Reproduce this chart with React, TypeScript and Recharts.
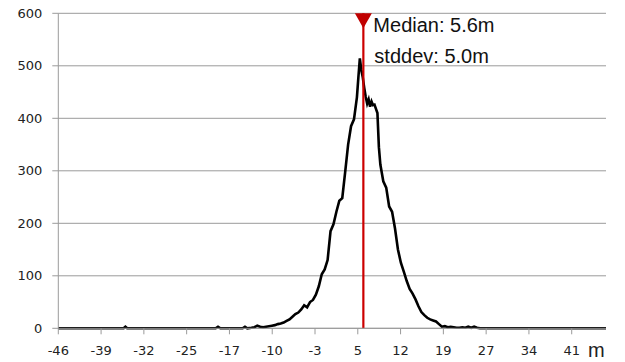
import React from "react";
import { LineChart, Line, XAxis, YAxis, CartesianGrid, ReferenceLine } from "recharts";

// Histogram of position error (metres) vs. count
const xMeters = [
  -46.45, -35.3, -35, -34.7, -19.6, -19.2, -18.8, -15, -14.6, -14.2, -13.5, -13, -12.5, -12, -11.5, -11,
  -10.5, -10, -9.5, -9, -8.5, -8, -7.5, -7, -6.5, -6, -5.5, -5, -4.5, -4, -3.5, -3, -2.5, -2, -1.5,
  -1, -0.5, 0, 0.5, 1, 1.5, 2, 2.5, 3, 3.5, 4, 4.5, 4.75, 5, 5.25, 5.5, 5.75, 6, 6.25, 6.5, 6.75, 7,
  7.25, 7.5, 7.75, 8, 8.25, 8.5, 9, 9.5, 10, 10.5, 11, 11.5, 12, 12.5, 13, 13.5, 14, 14.5, 15, 15.5,
  16, 16.5, 17, 17.5, 18, 18.5, 19, 19.5, 20, 20.5, 21, 21.5, 22, 22.5, 23, 23.5, 24, 24.5, 25, 25.5, 47,
];
const counts = [
  0, 0, 3, 0, 0, 3, 0, 0, 3, 0, 1, 2, 5, 3, 2, 3,
  4, 5, 6, 8, 9, 11, 14, 17, 22, 27, 30, 36, 44, 40, 50, 54, 64, 80, 103,
  112, 130, 185, 198, 222, 243, 248, 298, 350, 385, 398, 440, 478, 514, 492, 478, 458, 441, 428, 436, 422, 432,
  425, 426, 418, 410, 345, 312, 280, 268, 232, 222, 190, 150, 125, 108, 90, 75, 66, 55, 42, 31,
  25, 20, 17, 15, 13, 8, 3, 4, 2, 3, 2, 1, 1, 2, 1, 3, 1, 3, 1, 0, 0,
];

const yTicks = [0, 100, 200, 300, 400, 500, 600];
const xTickValues = [-46.45, -39.15, -31.85, -24.55, -17.25, -9.95, -2.65, 4.65, 11.95, 19.25, 26.55, 33.85, 41.15];
const xTickLabels = ["-46", "-39", "-32", "-25", "-17", "-10", "-3", "5", "12", "19", "27", "34", "41"];

const median = 5.6;
const medianText = "Median: 5.6m";
const stddevText = "stddev: 5.0m";
const unitText = "m";

const data = xMeters.map((x, i) => ({ x, count: counts[i] }));

const tickFont = { fontFamily: "DejaVu Sans", fontSize: 13, fill: "#222" };

function MedianMarker(props: any) {
  const vb = props.viewBox || {};
  const x = vb.x ?? 0;
  const y = vb.y ?? 0;
  return (
    <g>
      <polygon points={`${x - 8.5},${y} ${x + 8.5},${y} ${x},${y + 15}`} fill="#c00000" />
      <text x={x + 10} y={y + 19} fontFamily="Liberation Sans" fontSize={20} fill="#111">
        {medianText}
      </text>
      <text x={x + 11} y={y + 49.5} fontFamily="Liberation Sans" fontSize={20} fill="#111">
        {stddevText}
      </text>
    </g>
  );
}

function UnitLabel(props: any) {
  const vb = props.viewBox || {};
  return (
    <text
      x={(vb.x ?? 0) + (vb.width ?? 0) - 18}
      y={(vb.y ?? 0) + 28.5}
      fontFamily="Liberation Sans"
      fontSize={20}
      fill="#222"
    >
      {unitText}
    </text>
  );
}

export default function App() {
  return (
    <div style={{ position: "absolute", left: 0, top: 0, width: 625, height: 362, background: "#fff" }}>
      <LineChart
        width={625}
        height={362}
        data={data}
        margin={{ top: 13.3, right: 19, bottom: 3.7, left: 8.3 }}
      >
        <CartesianGrid vertical={false} stroke="#9a9a9a" strokeWidth={1} />
        <XAxis
          type="number"
          dataKey="x"
          domain={[-46.45, 47]}
          ticks={xTickValues}
          interval={0}
          tickFormatter={(v: number) => {
            const i = xTickValues.indexOf(v);
            return i >= 0 ? xTickLabels[i] : String(v);
          }}
          tick={tickFont}
          tickSize={6}
          tickMargin={11}
          height={30}
          stroke="#9a9a9a"
          tickLine={{ stroke: "#9a9a9a" }}
          axisLine={{ stroke: "#9a9a9a" }}
          label={<UnitLabel />}
        />
        <YAxis
          type="number"
          domain={[0, 600]}
          ticks={yTicks}
          interval={0}
          width={50}
          tick={tickFont}
          tickSize={6}
          tickMargin={10}
          tickLine={{ stroke: "#9a9a9a" }}
          axisLine={{ stroke: "#9a9a9a" }}
        />
        <Line
          type="linear"
          dataKey="count"
          stroke="#000"
          strokeWidth={2.6}
          dot={false}
          isAnimationActive={false}
        />
        <ReferenceLine
          x={median}
          stroke="#cc0000"
          strokeWidth={2.2}
          label={<MedianMarker />}
        />
      </LineChart>
    </div>
  );
}
